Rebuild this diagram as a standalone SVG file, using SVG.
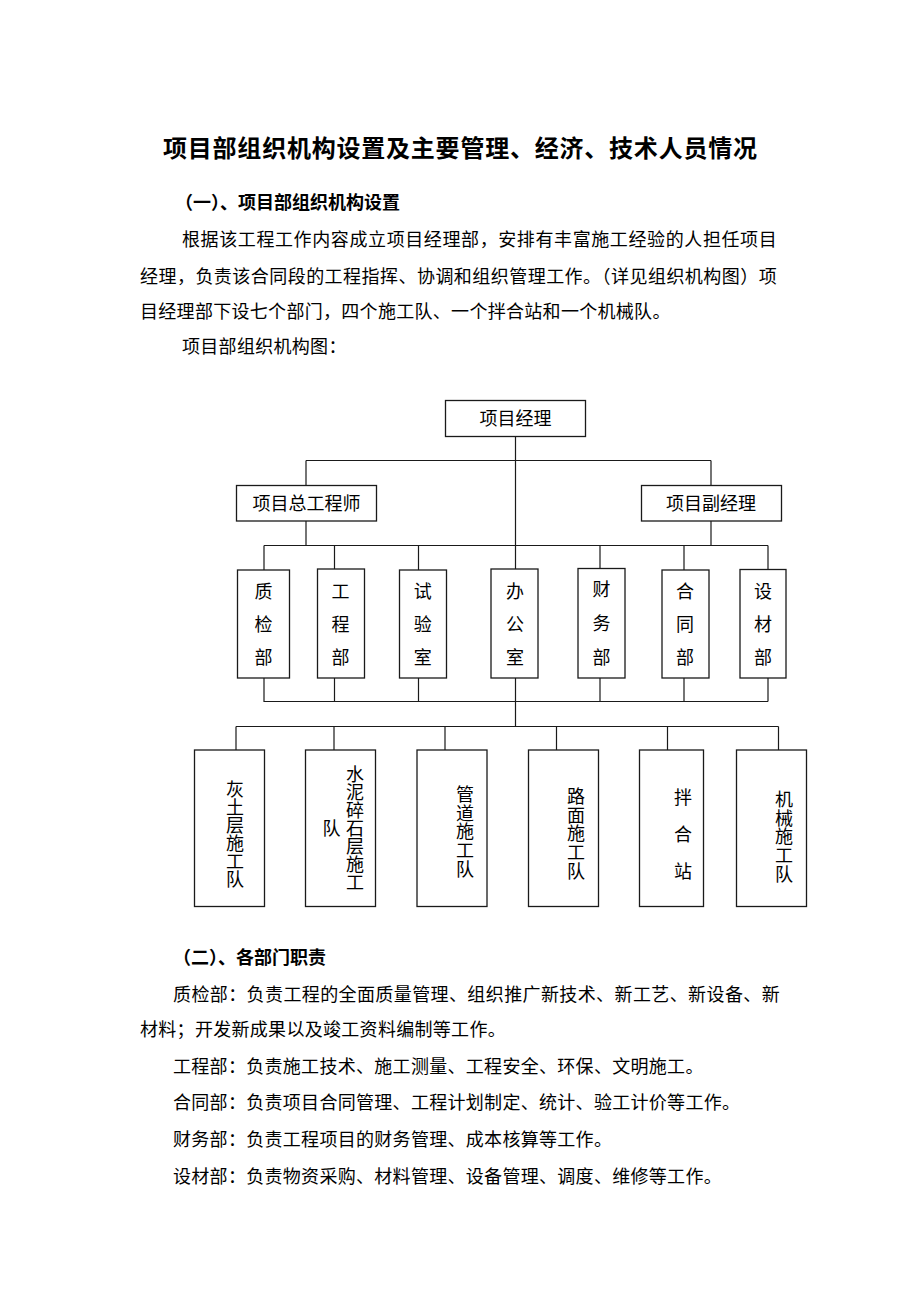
<svg xmlns="http://www.w3.org/2000/svg" width="920" height="1302" viewBox="0 0 920 1302">
<style>
text{font-family:"Liberation Serif","Noto Sans CJK SC",serif;fill:#000;dominant-baseline:central}
.title{font-size:24px;font-weight:bold}
.h{font-size:18px;font-weight:bold}
.p{font-size:18px;letter-spacing:0.3px}
.n{font-size:18px;text-anchor:middle}
.v{font-size:18px;text-anchor:middle}
.box{fill:#fff;stroke:#1a1a1a;stroke-width:1.3}
.ln{fill:none;stroke:#1a1a1a;stroke-width:1.2}
</style>
<rect width="920" height="1302" fill="#fff"/>
<g id="text-top">
<text class="title" x="163" y="149" textLength="594" lengthAdjust="spacing">项目部组织机构设置及主要管理、经济、技术人员情况</text>
<text class="h" x="175" y="203">（一）、项目部组织机构设置</text>
<text class="p" x="182" y="240" textLength="595" lengthAdjust="spacing">根据该工程工作内容成立项目经理部，安排有丰富施工经验的人担任项目</text>
<text class="p" x="140" y="276.7" textLength="637" lengthAdjust="spacing">经理，负责该合同段的工程指挥、协调和组织管理工作。（详见组织机构图）项</text>
<text class="p" x="140" y="311.7">目经理部下设七个部门，四个施工队、一个拌合站和一个机械队。</text>
<text class="p" x="182" y="346.7">项目部组织机构图：</text>
</g>
<g id="connectors" class="ln">
<path d="M515.5 436.5V726.5"/>
<path d="M306 460.5H711M306 460.5V485.5M711 460.5V485.5"/>
<path d="M306 521V545.5M711 521V545.5"/>
<path d="M264 545.5H768M264 545.5V570M334.5 545.5V569M418.5 545.5V570M600 545.5V569M684 545.5V570M768 545.5V570"/>
<path d="M264 678V701.5H768M334.5 678V701.5M418.5 678V701.5M600 678V701.5M684 678V701.5M768 678V701.5"/>
<path d="M236 726.5H778.5M236 726.5V750M334 726.5V750M445 726.5V750M556.5 726.5V750M667.5 726.5V750M778.5 726.5V750"/>
</g>
<g id="pm"><rect class="box" x="445.5" y="400.5" width="140" height="36"/><text class="n" x="515.5" y="418.5">项目经理</text></g>
<g id="chief-engineer"><rect class="box" x="236.5" y="485.5" width="140" height="35.5"/><text class="n" x="306.5" y="503.5">项目总工程师</text></g>
<g id="deputy-pm"><rect class="box" x="641.5" y="485.5" width="140" height="35.5"/><text class="n" x="711" y="503.5">项目副经理</text></g>
<g id="dept-zhijian"><rect class="box" x="237.5" y="570" width="52" height="108"/><text class="v" x="263.5"><tspan x="263.5" y="591.7">质</tspan><tspan x="263.5" y="625">检</tspan><tspan x="263.5" y="658.3">部</tspan></text></g>
<g id="dept-gongcheng"><rect class="box" x="317.5" y="569" width="47" height="109"/><text class="v" x="340.5"><tspan x="340.5" y="591.7">工</tspan><tspan x="340.5" y="625">程</tspan><tspan x="340.5" y="658.3">部</tspan></text></g>
<g id="dept-shiyan"><rect class="box" x="399.5" y="570" width="47" height="108"/><text class="v" x="422.7"><tspan x="422.7" y="591.7">试</tspan><tspan x="422.7" y="625">验</tspan><tspan x="422.7" y="658.3">室</tspan></text></g>
<g id="dept-bangong"><rect class="box" x="491" y="569" width="47" height="109"/><text class="v" x="515"><tspan x="515" y="591.7">办</tspan><tspan x="515" y="625">公</tspan><tspan x="515" y="658.3">室</tspan></text></g>
<g id="dept-caiwu"><rect class="box" x="578" y="568.5" width="47" height="109.5"/><text class="v" x="601.5"><tspan x="601.5" y="590">财</tspan><tspan x="601.5" y="624">务</tspan><tspan x="601.5" y="658">部</tspan></text></g>
<g id="dept-hetong"><rect class="box" x="662" y="570" width="47" height="108"/><text class="v" x="685"><tspan x="685" y="591.7">合</tspan><tspan x="685" y="625">同</tspan><tspan x="685" y="658.3">部</tspan></text></g>
<g id="dept-shecai"><rect class="box" x="740" y="569.5" width="46" height="108.5"/><text class="v" x="763"><tspan x="763" y="591.7">设</tspan><tspan x="763" y="625">材</tspan><tspan x="763" y="658.3">部</tspan></text></g>
<g id="team-huitu"><rect class="box" x="194.5" y="750" width="70" height="156.5"/><text class="v"><tspan x="235" y="790">灰</tspan><tspan x="235" y="808">土</tspan><tspan x="235" y="826">层</tspan><tspan x="235" y="844">施</tspan><tspan x="235" y="862">工</tspan><tspan x="235" y="880">队</tspan></text></g>
<g id="team-shuini"><rect class="box" x="305.5" y="750" width="70" height="156.5"/><text class="v"><tspan x="355" y="775">水</tspan><tspan x="355" y="793">泥</tspan><tspan x="355" y="811">碎</tspan><tspan x="355" y="829">石</tspan><tspan x="355" y="847">层</tspan><tspan x="355" y="865">施</tspan><tspan x="355" y="883">工</tspan><tspan x="331.5" y="829">队</tspan></text></g>
<g id="team-guandao"><rect class="box" x="417" y="750" width="70" height="156.5"/><text class="v"><tspan x="465" y="795">管</tspan><tspan x="465" y="813.7">道</tspan><tspan x="465" y="832.4">施</tspan><tspan x="465" y="851.1">工</tspan><tspan x="465" y="869.8">队</tspan></text></g>
<g id="team-lumian"><rect class="box" x="528.5" y="750" width="70" height="156.5"/><text class="v"><tspan x="576" y="797">路</tspan><tspan x="576" y="815.7">面</tspan><tspan x="576" y="834.4">施</tspan><tspan x="576" y="853.1">工</tspan><tspan x="576" y="871.8">队</tspan></text></g>
<g id="team-banhe"><rect class="box" x="639.5" y="750" width="64" height="156.5"/><text class="v"><tspan x="683" y="798">拌</tspan><tspan x="683" y="835">合</tspan><tspan x="683" y="872">站</tspan></text></g>
<g id="team-jixie"><rect class="box" x="736.5" y="750" width="70" height="156.5"/><text class="v"><tspan x="784" y="800">机</tspan><tspan x="784" y="818.7">械</tspan><tspan x="784" y="837.4">施</tspan><tspan x="784" y="856.1">工</tspan><tspan x="784" y="874.8">队</tspan></text></g>
<g id="text-bottom">
<text class="h" x="173" y="958">（二）、各部门职责</text>
<text class="p" x="173" y="995" textLength="607" lengthAdjust="spacing">质检部：负责工程的全面质量管理、组织推广新技术、新工艺、新设备、新</text>
<text class="p" x="140" y="1030">材料；开发新成果以及竣工资料编制等工作。</text>
<text class="p" x="173" y="1066.7">工程部：负责施工技术、施工测量、工程安全、环保、文明施工。</text>
<text class="p" x="173" y="1103">合同部：负责项目合同管理、工程计划制定、统计、验工计价等工作。</text>
<text class="p" x="173" y="1140">财务部：负责工程项目的财务管理、成本核算等工作。</text>
<text class="p" x="173" y="1176.5">设材部：负责物资采购、材料管理、设备管理、调度、维修等工作。</text>
</g>
</svg>
